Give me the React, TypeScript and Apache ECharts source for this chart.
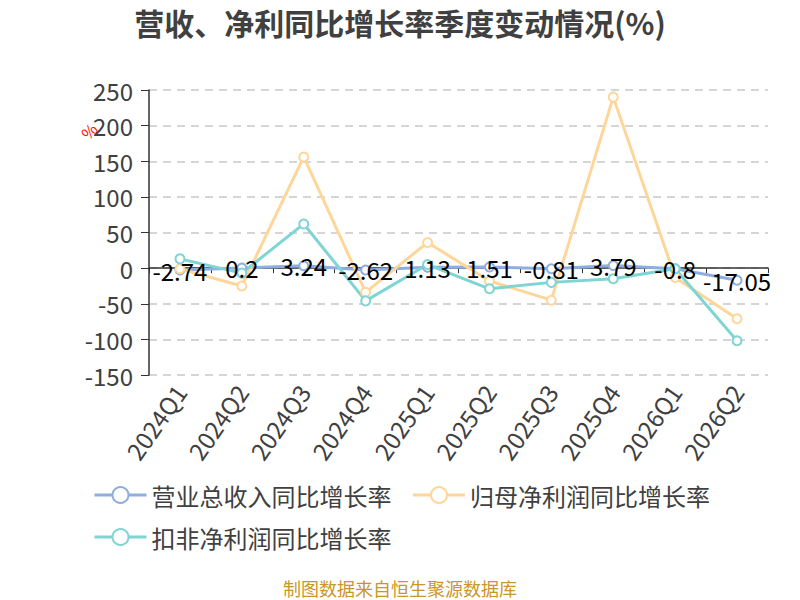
import React, { useEffect, useRef } from 'react';
import * as echarts from 'echarts';

const categories = ['2024Q1', '2024Q2', '2024Q3', '2024Q4', '2025Q1', '2025Q2', '2025Q3', '2025Q4', '2026Q1', '2026Q2'];
const revenueGrowth = [-2.74, 0.2, 3.24, -2.62, 1.13, 1.51, -0.81, 3.79, -0.8, -17.05];
const netProfitGrowth = [-1, -25, 156, -34, 36, -18, -45, 240, -13, -71];
const deductedProfitGrowth = [13, -7, 62, -46, 5, -29, -20, -15, -1, -102];
const seriesNames = ['营业总收入同比增长率', '归母净利润同比增长率', '扣非净利润同比增长率'];
const seriesColors = ['#8eaee0', '#ffd699', '#7fd4d4'];
const yMin = -150;
const yMax = 250;
const yInterval = 50;

const FONT = '"Noto Sans CJK SC", "Noto Sans", sans-serif';

export default function App() {
  const ref = useRef<HTMLDivElement>(null);
  useEffect(() => {
    document.body.style.margin = '0';
    const chart = echarts.init(ref.current!, null, { renderer: 'svg' });
    const mkSeries = (name: string, data: number[], color: string, withLabel: boolean) => ({
      name,
      type: 'line',
      data,
      xAxisIndex: 0,
      yAxisIndex: 0,
      symbol: 'circle',
      symbolSize: 9,
      showAllSymbol: true,
      itemStyle: { color: '#fff', borderColor: color, borderWidth: 2 },
      lineStyle: { color, width: 3 },
      label: withLabel
        ? {
            show: true,
            position: 'inside',
            color: '#000',
            fontSize: 24,
            fontFamily: FONT,
            formatter: (p: any) => String(p.value),
          }
        : { show: false },
    });
    const legendItem = (i: number) => ({
      name: seriesNames[i],
      itemStyle: { color: '#fff', borderColor: seriesColors[i], borderWidth: 2 },
      lineStyle: { color: seriesColors[i], width: 3 },
    });
    const legendBase = {
      left: 88,
      itemWidth: 52,
      itemHeight: 20,
      itemGap: 20,
      textStyle: { fontSize: 24, color: '#404040', fontFamily: FONT },
    };
    chart.setOption({
      animation: false,
      textStyle: { fontFamily: FONT },
      title: {
        text: '营收、净利同比增长率季度变动情况(%)',
        left: 'center',
        top: 2,
        textStyle: { fontSize: 30, fontWeight: 'bold', color: '#404040', fontFamily: FONT },
      },
      legend: [
        { ...legendBase, top: 478, data: [legendItem(0), legendItem(1)] },
        { ...legendBase, top: 520, data: [legendItem(2)] },
      ],
      grid: { left: 149, right: 32, top: 90, bottom: 225, containLabel: false },
      xAxis: [
        {
          type: 'category',
          data: categories,
          position: 'bottom',
          axisLine: { show: false, onZero: false },
          axisTick: { show: false },
          axisLabel: { rotate: 55, fontSize: 24, color: '#404040', margin: 12, fontFamily: FONT },
        },
        {
          type: 'category',
          data: categories,
          position: 'bottom',
          axisLine: { show: true, onZero: true, lineStyle: { color: '#333', width: 1.5 } },
          axisTick: { show: true, length: 5, lineStyle: { color: '#333' } },
          axisLabel: { show: false },
        },
      ],
      yAxis: {
        type: 'value',
        min: yMin,
        max: yMax,
        interval: yInterval,
        axisLine: { show: true, lineStyle: { color: '#333', width: 1.5 } },
        axisTick: { show: true, length: 8, lineStyle: { color: '#333' } },
        axisLabel: { fontSize: 24, color: '#404040', margin: 16, fontFamily: FONT },
        splitLine: { show: true, lineStyle: { color: '#c8c8c8', type: [8, 6], width: 1.5 } },
      },
      graphic: [
        {
          type: 'text',
          left: 78,
          top: 120,
          rotation: Math.PI / 4,
          style: { text: '%', fill: '#ff0000', fontSize: 16, fontFamily: FONT },
        },
        {
          type: 'text',
          left: 'center',
          top: 579,
          style: { text: '制图数据来自恒生聚源数据库', fill: '#c9962b', fontSize: 18, fontFamily: FONT },
        },
      ],
      series: [
        mkSeries(seriesNames[0], revenueGrowth, seriesColors[0], true),
        mkSeries(seriesNames[1], netProfitGrowth, seriesColors[1], false),
        mkSeries(seriesNames[2], deductedProfitGrowth, seriesColors[2], false),
      ],
    });
    return () => chart.dispose();
  }, []);
  return <div ref={ref} style={{ width: 800, height: 600 }} />;
}
